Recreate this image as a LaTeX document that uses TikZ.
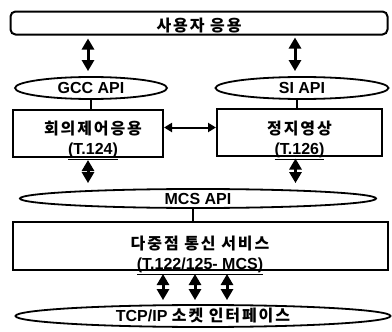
\documentclass[tikz,border=0pt]{standalone}
\usepackage{fontspec}
\setmainfont{Liberation Sans}[BoldFont={Liberation Sans Bold}]
\newfontfamily\kr{Noto Sans CJK KR}[LetterSpace=12]
\usetikzlibrary{shapes.geometric, arrows.meta, positioning}

\begin{document}
\begin{tikzpicture}[
    x=1pt, y=-1pt,
    every node/.style={font=\bfseries\fontsize{16}{20}\selectfont, align=center},
    every label/.style={font=\bfseries\fontsize{16}{20}\selectfont, align=center},
    layer/.style={draw, line width=2pt, inner sep=0pt},
    api/.style={ellipse, draw, line width=1.8pt, inner sep=0pt},
    dbl/.style={line width=3pt, {Triangle[width=12pt,length=11pt]}-{Triangle[width=12pt,length=11pt]}},
    link/.style={line width=1.6pt}
]
   \useasboundingbox (0,0) rectangle (392,332);

   % Layers
   \node[layer, rounded corners=5pt, minimum width=377pt, minimum height=23pt,
         label={[yshift=-3pt]center:{\kr 사용자 응용}}] (user) at (199,23) {};
   \node[api, minimum width=152pt, minimum height=22pt] (gcc) at (91,88) {GCC API};
   \node[api, minimum width=173pt, minimum height=22pt] (si) at (302,88) {SI API};
   \node[layer, minimum width=150pt, minimum height=47pt,
         label={[xshift=5pt, yshift=-7pt]center:{\kr 회의제어응용}\\\underline{(T.124)}}] (conf) at (88,133.5) {};
   \node[layer, minimum width=165pt, minimum height=47pt,
         label={[yshift=-8pt]center:{\kr 정지영상}\\\underline{(T.126)}}] (still) at (299.5,132) {};
   \node[api, minimum width=356pt, minimum height=19pt] (mcsapi) at (198,198.5) {MCS API};
   \node[layer, minimum width=375pt, minimum height=48pt,
         label={[yshift=-9pt]center:{\kr 다중점 통신 서비스}\\\underline{(T.122/125- MCS)}}] (mcs) at (200,246) {};
   \node[api, minimum width=375pt, minimum height=22pt] (tcp) at (203,316) {TCP/IP {\kr 소켓 인터페이스}};

   % Connections
   \draw[dbl, shorten <=3pt, shorten >=5pt] ([xshift=-3pt]user.south -| gcc.north) -- ([xshift=-3pt]gcc.north);
   \draw[dbl, shorten <=2pt, shorten >=5pt] ([xshift=-7pt]user.south -| si.north) -- ([xshift=-7pt]si.north);
   \draw[link] (gcc.south) -- (gcc.south |- conf.north);
   \draw[link] ([xshift=-5pt]si.south) -- ([xshift=-5pt]si.south |- still.north);
   \draw[line width=2pt, {Triangle[width=9pt,length=8pt]}-{Triangle[width=9pt,length=8pt]}] ([yshift=6pt]conf.east) -- ([yshift=6pt]conf.east -| still.west);
   \draw[dbl, shorten <=2pt, shorten >=5pt] (conf.south) -- (conf.south |- mcsapi.north);
   \draw[dbl, shorten <=2pt, shorten >=5pt] ([xshift=-4pt]still.south) -- ([xshift=-4pt]still.south |- mcsapi.north);
   \draw[link] ([xshift=-5pt]mcsapi.south) -- ([xshift=-5pt]mcsapi.south |- mcs.north);
   \foreach \dx in {-37,-5,27}
      \draw[dbl, shorten <=3pt, shorten >=4pt] ([xshift=\dx pt]mcs.south) -- ([xshift=\dx pt]mcs.south |- tcp.north);

\end{tikzpicture}
\end{document}
